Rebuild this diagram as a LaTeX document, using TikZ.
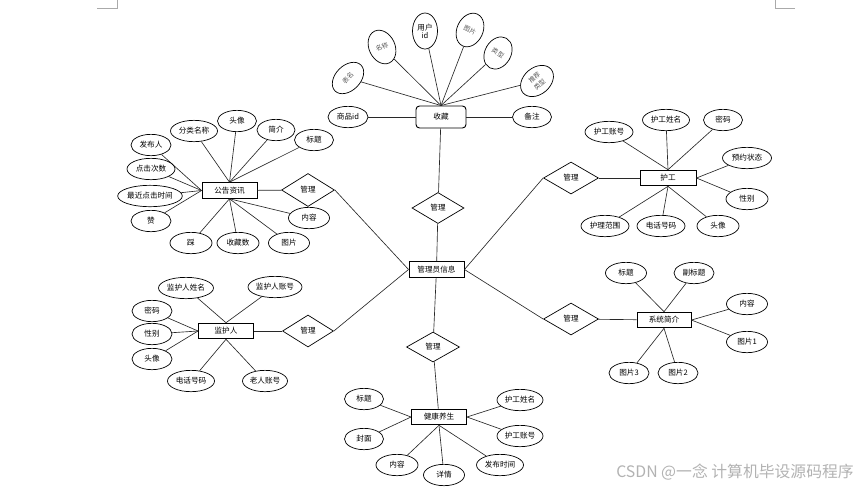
\documentclass[tikz,border=0pt]{standalone}
\usepackage{fontspec}
\usepackage{tikz}
\usetikzlibrary{shapes.geometric, positioning}
\newfontfamily\cjk{Noto Sans CJK SC}
\definecolor{ERLine}{RGB}{40,40,40}
\definecolor{ERMark}{RGB}{170,170,170}

\begin{document}
\begin{tikzpicture}[x=0.03cm, y=-0.03cm,
      ent/.style={rectangle, draw=black, line width=0.8pt, inner sep=0pt,
                  minimum width=1.65cm, minimum height=0.47cm,
                  font=\cjk\fontsize{6.5}{7.5}\selectfont},
      attr/.style={ellipse, draw=black, line width=0.6pt, inner sep=0pt,
                   minimum width=#1, minimum height=0.64cm,
                   font=\cjk\fontsize{6.5}{7.5}\selectfont},
      attr/.default=1.2cm,
      tilt/.style={ellipse, draw=black, line width=0.6pt, inner sep=0pt,
                   align=center, font=\cjk\fontsize{5.5}{7}\selectfont, text=black!65},
      rel/.style={diamond, draw=black, line width=0.6pt, inner sep=0pt,
                  minimum width=1.6cm, minimum height=0.96cm,
                  font=\cjk\fontsize{6.5}{7.5}\selectfont},
      conn/.style={line width=0.55pt, ERLine}
    ]
    \useasboundingbox (0,0) rectangle (866,490);

    %--- page marks ---
    \draw[ERMark, line width=0.4pt] (97,8) -- (117,8) -- (117,0);
    \draw[ERMark, line width=0.4pt] (795,8) -- (775,8) -- (775,0);

    %--- centre ---
    \node[ent] (admin) at (436.5,269.5) {管理员信息};

    %--- 收藏 (top) ---
    \node[ent, rounded corners=3pt, minimum width=1.5cm, minimum height=0.66cm]
          (fav) at (441,117) {收藏};
    \node[attr=1.2cm] (fav1) at (348,117) {商品id};
    \node[attr=1.17cm] (fav2) at (532,117) {备注};
    \draw[conn] (fav1) -- (fav);
    \draw[conn] (fav) -- (fav2);

    \node[tilt, minimum width=1.1cm, minimum height=0.75cm, rotate=45]
          (fan1) at (348,78) {表名};
    \node[tilt, minimum width=0.78cm, minimum height=1.05cm, rotate=25]
          (fan2) at (382,47) {名称};
    \node[tilt, minimum width=0.75cm, minimum height=1.08cm, text=black,
          font=\cjk\fontsize{6.5}{7}\selectfont]
          (fan3) at (425,31) {用户\\id};
    \node[tilt, minimum width=0.78cm, minimum height=1.05cm, rotate=-25]
          (fan4) at (470,30) {图片};
    \node[tilt, minimum width=0.78cm, minimum height=1.02cm, rotate=-30]
          (fan5) at (498,53) {类型};
    \node[tilt, minimum width=1.1cm, minimum height=0.8cm, rotate=40]
          (fan6) at (537,81) {推荐\\类型};
    \foreach \i in {1,...,6}
      \draw[conn] (fan\i) -- (fav.north);

    \node[rel, minimum width=1.56cm, minimum height=0.93cm] (favr) at (438,208) {管理};
    \draw[conn] (fav) -- (favr);
    \draw[conn] (favr) -- (admin);

    %--- 公告资讯 (upper left) ---
    \node[ent] (gg) at (229.5,190.5) {公告资讯};
    \foreach \n/\x/\y/\w/\t/\a in {
        1/194/131/1.41cm/分类名称/north, 2/237/121/1.17cm/头像/north,
        3/276/130/1.14cm/简介/north,     4/314/140/1.17cm/标题/north,
        5/151/145/1.2cm/发布人/west,     6/151/169/1.44cm/点击次数/west,
        7/150/196/1.89cm/最近点击时间/west, 8/151/221/1.2cm/赞/west,
        9/191/243/1.26cm/踩/south,       10/238/243/1.26cm/收藏数/south,
        11/289/243/1.23cm/图片/south,    12/309/218/1.23cm/内容/south} {
      \node[attr=\w] (gg\n) at (\x,\y) {\t};
      \draw[conn] (gg\n) -- (gg.\a);
    }
    \node[rel, minimum width=1.59cm, minimum height=0.99cm] (ggr) at (308,190) {管理};
    \draw[conn] (gg) -- (ggr);
    \draw[conn] (ggr.east) -- (admin.west);

    %--- 监护人 (lower left) ---
    \node[ent] (jhr) at (226,331) {监护人};
    \foreach \n/\x/\y/\w/\t/\a in {
        1/186/288/1.65cm/监护人姓名/north, 2/275/287/1.62cm/监护人账号/north,
        3/152/311/1.2cm/密码/west,  4/152/334/1.2cm/性别/west,
        5/152/359/1.2cm/头像/west,  6/191/381/1.41cm/电话号码/south,
        7/265/381/1.35cm/老人账号/south} {
      \node[attr=\w] (jhr\n) at (\x,\y) {\t};
      \draw[conn] (jhr\n) -- (jhr.\a);
    }
    \node[rel, minimum width=1.53cm] (jhrr) at (308,331) {管理};
    \draw[conn] (jhr) -- (jhrr);
    \draw[conn] (jhrr.east) -- (admin.west);

    %--- 护工 (upper right) ---
    \node[ent, minimum width=1.68cm] (hg) at (668,178) {护工};
    \foreach \n/\x/\y/\w/\t/\a in {
        1/609/132/1.44cm/护工账号/north, 2/666/120/1.41cm/护工姓名/north,
        3/723/120/1.17cm/密码/north,     4/747/158/1.47cm/预约状态/east,
        5/747/199/1.26cm/性别/east,      6/718/226/1.26cm/头像/south,
        7/661/226/1.44cm/电话号码/south, 8/605/226/1.44cm/护理范围/south} {
      \node[attr=\w] (hg\n) at (\x,\y) {\t};
      \draw[conn] (hg\n) -- (hg.\a);
    }
    \node[rel, minimum width=1.65cm] (hgr) at (571,178) {管理};
    \draw[conn] (hgr) -- (hg);
    \draw[conn] (admin.east) -- (hgr.west);

    %--- 系统简介 (lower right) ---
    \node[ent, minimum width=1.62cm] (xt) at (664,320) {系统简介};
    \foreach \n/\x/\y/\w/\t/\a in {
        1/626/273/1.23cm/标题/north, 2/694/273/1.2cm/副标题/north,
        3/747/304/1.23cm/内容/east,  4/747/342/1.23cm/图片1/east,
        5/678/373/1.2cm/图片2/south, 6/629/373/1.2cm/图片3/south} {
      \node[attr=\w] (xt\n) at (\x,\y) {\t};
      \draw[conn] (xt\n) -- (xt.\a);
    }
    \node[rel, minimum width=1.65cm] (xtr) at (571,319) {管理};
    \draw[conn] (xtr) -- (xt);
    \draw[conn] (admin.east) -- (xtr.west);

    %--- 健康养生 (bottom) ---
    \node[ent] (jk) at (439,417) {健康养生};
    \foreach \n/\x/\y/\w/\t/\a in {
        1/364/399/1.17cm/标题/west,      2/364/439/1.17cm/封面/west,
        3/397/465/1.26cm/内容/south,     4/444/475/1.23cm/详情/south,
        5/500/465/1.41cm/发布时间/south, 6/520/400/1.38cm/护工姓名/east,
        7/520/436/1.38cm/护工账号/east} {
      \node[attr=\w] (jk\n) at (\x,\y) {\t};
      \draw[conn] (jk\n) -- (jk.\a);
    }
    \node[rel, minimum width=1.59cm, minimum height=0.9cm] (jkr) at (433,347) {管理};
    \draw[conn] (admin) -- (jkr);
    \draw[conn] (jkr) -- (jk);

    %--- watermark ---
    \node[font=\cjk\fontsize{13.5}{15}\selectfont, text=black!30] (wm) at (735,472)
          {CSDN @一念 计算机毕设源码程序};
\end{tikzpicture}
\end{document}
